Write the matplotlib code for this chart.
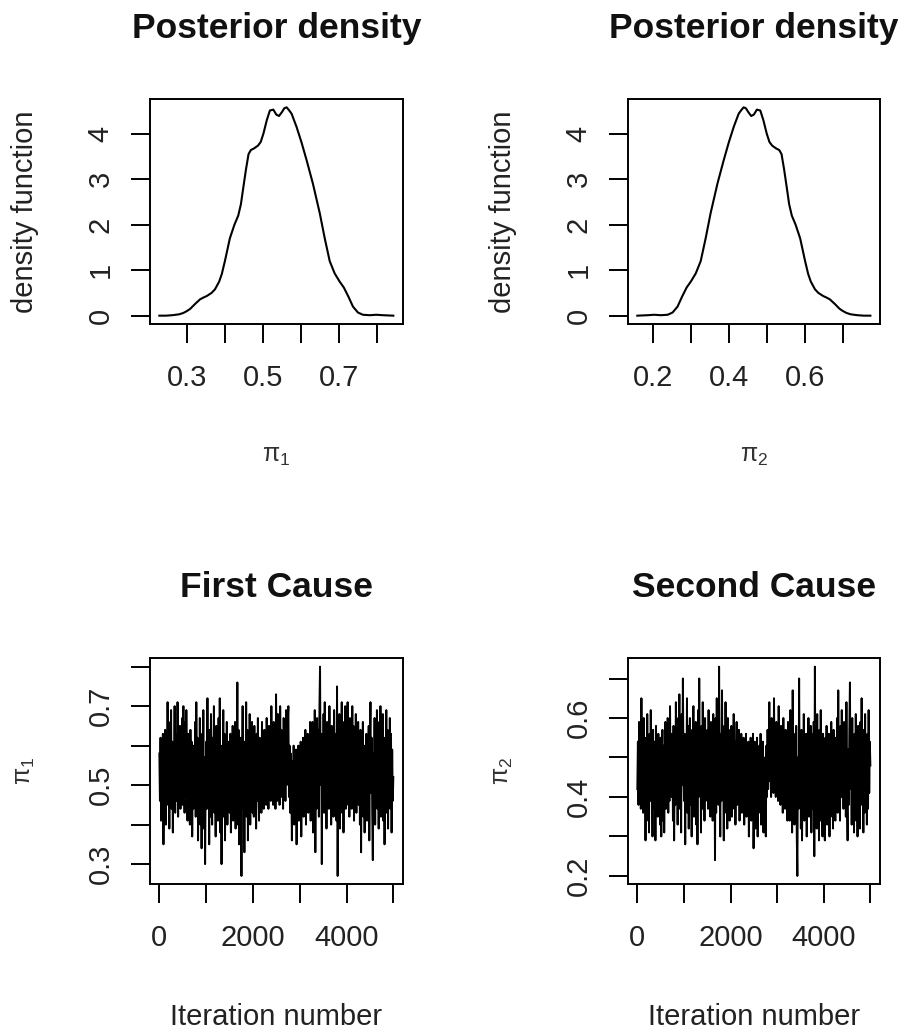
import numpy as np
import matplotlib
matplotlib.use("Agg")
import matplotlib.pyplot as plt

plt.rcParams['font.family'] = ['Liberation Sans', 'DejaVu Sans']
plt.rcParams['mathtext.fontset'] = 'dejavusans'

# Posterior density of pi_1
dens1_x = [0.228, 0.245, 0.262, 0.280, 0.291, 0.300, 0.309, 0.322, 0.335, 0.344,
           0.352, 0.365, 0.374, 0.385, 0.392, 0.400, 0.413, 0.425, 0.435, 0.442,
           0.448, 0.455, 0.462, 0.468, 0.477, 0.487, 0.494, 0.501, 0.510, 0.518,
           0.527, 0.535, 0.542, 0.550, 0.556, 0.562, 0.568, 0.575, 0.588, 0.601,
           0.615, 0.631, 0.649, 0.662, 0.675, 0.688, 0.701, 0.712, 0.724, 0.736,
           0.749, 0.762, 0.780, 0.797, 0.815, 0.842]
dens1_y = [0.00, 0.00, 0.01, 0.03, 0.06, 0.10, 0.15, 0.26, 0.36, 0.40,
           0.43, 0.50, 0.58, 0.75, 0.92, 1.20, 1.70, 2.00, 2.20, 2.45,
           2.80, 3.20, 3.55, 3.64, 3.68, 3.74, 3.82, 4.00, 4.30, 4.51,
           4.53, 4.42, 4.39, 4.48, 4.56, 4.58, 4.52, 4.44, 4.15, 3.81,
           3.40, 2.90, 2.25, 1.70, 1.20, 0.93, 0.75, 0.62, 0.42, 0.20,
           0.07, 0.02, 0.01, 0.02, 0.01, 0.00]

# Posterior density of pi_2
dens2_x = [0.158, 0.185, 0.203, 0.220, 0.238, 0.251, 0.264, 0.276, 0.288, 0.299,
           0.312, 0.325, 0.338, 0.351, 0.369, 0.385, 0.399, 0.412, 0.425, 0.432,
           0.438, 0.444, 0.450, 0.458, 0.465, 0.473, 0.482, 0.490, 0.499, 0.506,
           0.513, 0.523, 0.532, 0.538, 0.545, 0.552, 0.558, 0.565, 0.575, 0.587,
           0.600, 0.608, 0.615, 0.626, 0.635, 0.648, 0.656, 0.665, 0.678, 0.691,
           0.700, 0.709, 0.720, 0.738, 0.755, 0.772]
dens2_y = [0.00, 0.01, 0.02, 0.01, 0.02, 0.07, 0.20, 0.42, 0.62, 0.75,
           0.93, 1.20, 1.70, 2.25, 2.90, 3.40, 3.81, 4.15, 4.44, 4.52,
           4.58, 4.56, 4.48, 4.39, 4.42, 4.53, 4.51, 4.30, 4.00, 3.82,
           3.74, 3.68, 3.64, 3.55, 3.20, 2.80, 2.45, 2.20, 2.00, 1.70,
           1.20, 0.92, 0.75, 0.58, 0.50, 0.43, 0.40, 0.36, 0.26, 0.15,
           0.10, 0.06, 0.03, 0.01, 0.00, 0.00]

# MCMC chains, thinned (20 values per 250 iterations)
pi1_trace = [
    0.58, 0.46, 0.62, 0.41, 0.57, 0.44, 0.63, 0.35, 0.55, 0.48, 0.64, 0.40, 0.60, 0.45, 0.71, 0.50, 0.66, 0.39, 0.58, 0.47,
    0.69, 0.44, 0.61, 0.38, 0.56, 0.49, 0.70, 0.43, 0.63, 0.52, 0.46, 0.71, 0.42, 0.59, 0.48, 0.65, 0.44, 0.60, 0.50, 0.67,
    0.45, 0.70, 0.52, 0.43, 0.66, 0.47, 0.69, 0.55, 0.41, 0.63, 0.49, 0.58, 0.40, 0.64, 0.46, 0.61, 0.37, 0.57, 0.44, 0.60,
    0.47, 0.66, 0.42, 0.71, 0.50, 0.62, 0.36, 0.58, 0.45, 0.67, 0.40, 0.55, 0.34, 0.63, 0.48, 0.69, 0.39, 0.57, 0.30, 0.52,
    0.61, 0.44, 0.72, 0.47, 0.58, 0.35, 0.64, 0.42, 0.68, 0.50, 0.40, 0.62, 0.46, 0.70, 0.43, 0.56, 0.37, 0.65, 0.49, 0.59,
    0.41, 0.67, 0.45, 0.72, 0.38, 0.60, 0.30, 0.55, 0.47, 0.69, 0.42, 0.63, 0.36, 0.58, 0.44, 0.66, 0.40, 0.61, 0.46, 0.57,
    0.43, 0.63, 0.38, 0.60, 0.48, 0.65, 0.41, 0.58, 0.45, 0.66, 0.39, 0.62, 0.47, 0.76, 0.40, 0.64, 0.35, 0.59, 0.44, 0.62,
    0.27, 0.55, 0.70, 0.44, 0.61, 0.33, 0.58, 0.48, 0.71, 0.42, 0.64, 0.36, 0.57, 0.46, 0.68, 0.40, 0.62, 0.45, 0.66, 0.43,
    0.60, 0.42, 0.65, 0.48, 0.56, 0.39, 0.63, 0.46, 0.67, 0.50, 0.41, 0.62, 0.47, 0.58, 0.43, 0.66, 0.49, 0.60, 0.44, 0.64,
    0.47, 0.62, 0.45, 0.67, 0.52, 0.59, 0.44, 0.65, 0.50, 0.61, 0.46, 0.70, 0.48, 0.63, 0.45, 0.66, 0.51, 0.60, 0.44, 0.73,
    0.55, 0.46, 0.68, 0.50, 0.62, 0.45, 0.70, 0.49, 0.64, 0.47, 0.58, 0.44, 0.67, 0.52, 0.61, 0.46, 0.69, 0.50, 0.57, 0.66,
    0.70, 0.47, 0.60, 0.43, 0.58, 0.50, 0.36, 0.56, 0.44, 0.60, 0.40, 0.55, 0.47, 0.59, 0.35, 0.53, 0.45, 0.60, 0.41, 0.57,
    0.44, 0.61, 0.37, 0.56, 0.48, 0.62, 0.42, 0.58, 0.46, 0.64, 0.40, 0.57, 0.49, 0.63, 0.43, 0.60, 0.45, 0.66, 0.41, 0.59,
    0.46, 0.66, 0.38, 0.62, 0.47, 0.69, 0.33, 0.60, 0.44, 0.67, 0.48, 0.64, 0.42, 0.70, 0.80, 0.50, 0.63, 0.30, 0.58, 0.45,
    0.68, 0.43, 0.71, 0.50, 0.62, 0.39, 0.66, 0.47, 0.60, 0.44, 0.70, 0.48, 0.58, 0.40, 0.65, 0.46, 0.62, 0.42, 0.69, 0.51,
    0.44, 0.63, 0.41, 0.75, 0.27, 0.60, 0.46, 0.68, 0.39, 0.64, 0.50, 0.71, 0.43, 0.66, 0.38, 0.62, 0.47, 0.70, 0.44, 0.65,
    0.49, 0.71, 0.45, 0.63, 0.42, 0.67, 0.52, 0.60, 0.44, 0.70, 0.48, 0.65, 0.41, 0.62, 0.50, 0.68, 0.43, 0.61, 0.47, 0.66,
    0.45, 0.62, 0.40, 0.64, 0.33, 0.57, 0.47, 0.66, 0.42, 0.60, 0.38, 0.58, 0.46, 0.63, 0.41, 0.59, 0.49, 0.65, 0.36, 0.61,
    0.71, 0.48, 0.62, 0.43, 0.31, 0.58, 0.46, 0.67, 0.40, 0.63, 0.50, 0.69, 0.44, 0.60, 0.39, 0.66, 0.47, 0.70, 0.42, 0.61,
    0.45, 0.68, 0.41, 0.62, 0.35, 0.58, 0.47, 0.69, 0.43, 0.64, 0.39, 0.60, 0.49, 0.67, 0.44, 0.63, 0.38, 0.59, 0.46, 0.52]
pi2_trace = [
    0.42, 0.54, 0.38, 0.59, 0.43, 0.56, 0.37, 0.65, 0.45, 0.52, 0.36, 0.60, 0.40, 0.55, 0.29, 0.50, 0.34, 0.61, 0.42, 0.53,
    0.31, 0.56, 0.39, 0.62, 0.44, 0.51, 0.30, 0.57, 0.37, 0.48, 0.54, 0.29, 0.58, 0.41, 0.52, 0.35, 0.56, 0.40, 0.50, 0.33,
    0.55, 0.30, 0.48, 0.57, 0.34, 0.53, 0.31, 0.45, 0.59, 0.37, 0.51, 0.42, 0.60, 0.36, 0.54, 0.39, 0.63, 0.43, 0.56, 0.40,
    0.53, 0.34, 0.58, 0.29, 0.50, 0.38, 0.64, 0.42, 0.55, 0.33, 0.60, 0.45, 0.66, 0.37, 0.52, 0.31, 0.61, 0.43, 0.70, 0.48,
    0.39, 0.56, 0.28, 0.53, 0.42, 0.65, 0.36, 0.58, 0.32, 0.50, 0.60, 0.38, 0.54, 0.30, 0.57, 0.44, 0.63, 0.35, 0.51, 0.41,
    0.59, 0.33, 0.55, 0.28, 0.62, 0.40, 0.70, 0.45, 0.53, 0.31, 0.58, 0.37, 0.64, 0.42, 0.56, 0.34, 0.60, 0.39, 0.54, 0.43,
    0.57, 0.37, 0.62, 0.40, 0.52, 0.35, 0.59, 0.42, 0.55, 0.34, 0.61, 0.38, 0.53, 0.24, 0.60, 0.36, 0.65, 0.41, 0.56, 0.38,
    0.73, 0.45, 0.30, 0.56, 0.39, 0.67, 0.42, 0.52, 0.29, 0.58, 0.36, 0.64, 0.43, 0.54, 0.32, 0.60, 0.38, 0.55, 0.34, 0.57,
    0.40, 0.58, 0.35, 0.52, 0.44, 0.61, 0.37, 0.54, 0.33, 0.50, 0.59, 0.38, 0.53, 0.42, 0.57, 0.34, 0.51, 0.40, 0.56, 0.36,
    0.53, 0.38, 0.55, 0.33, 0.48, 0.41, 0.56, 0.35, 0.50, 0.39, 0.54, 0.30, 0.52, 0.37, 0.55, 0.34, 0.49, 0.40, 0.56, 0.27,
    0.45, 0.54, 0.32, 0.50, 0.38, 0.55, 0.30, 0.51, 0.36, 0.53, 0.42, 0.56, 0.33, 0.48, 0.39, 0.54, 0.31, 0.50, 0.43, 0.34,
    0.30, 0.53, 0.40, 0.57, 0.42, 0.50, 0.64, 0.44, 0.56, 0.40, 0.60, 0.45, 0.53, 0.41, 0.65, 0.47, 0.55, 0.40, 0.59, 0.43,
    0.56, 0.39, 0.63, 0.44, 0.52, 0.38, 0.58, 0.42, 0.54, 0.36, 0.60, 0.43, 0.51, 0.37, 0.57, 0.40, 0.55, 0.34, 0.59, 0.41,
    0.54, 0.34, 0.62, 0.38, 0.53, 0.31, 0.67, 0.40, 0.56, 0.33, 0.52, 0.36, 0.58, 0.30, 0.20, 0.50, 0.37, 0.70, 0.42, 0.55,
    0.32, 0.57, 0.29, 0.50, 0.38, 0.61, 0.34, 0.53, 0.40, 0.56, 0.30, 0.52, 0.42, 0.60, 0.35, 0.54, 0.38, 0.58, 0.31, 0.49,
    0.56, 0.37, 0.59, 0.25, 0.73, 0.40, 0.54, 0.32, 0.61, 0.36, 0.50, 0.29, 0.57, 0.34, 0.62, 0.38, 0.53, 0.30, 0.56, 0.35,
    0.51, 0.29, 0.55, 0.37, 0.58, 0.33, 0.48, 0.40, 0.56, 0.30, 0.52, 0.35, 0.59, 0.38, 0.50, 0.32, 0.57, 0.39, 0.53, 0.34,
    0.55, 0.38, 0.60, 0.36, 0.67, 0.43, 0.53, 0.34, 0.58, 0.40, 0.62, 0.42, 0.54, 0.37, 0.59, 0.41, 0.51, 0.35, 0.64, 0.39,
    0.29, 0.52, 0.38, 0.57, 0.69, 0.42, 0.54, 0.33, 0.60, 0.37, 0.50, 0.31, 0.56, 0.40, 0.61, 0.34, 0.53, 0.30, 0.58, 0.39,
    0.55, 0.32, 0.59, 0.38, 0.65, 0.42, 0.53, 0.31, 0.57, 0.36, 0.61, 0.40, 0.51, 0.33, 0.56, 0.37, 0.62, 0.41, 0.54, 0.48]
iterations = np.linspace(1, 5000, len(pi1_trace))

FS = 21


def r_lim(values):
    # R style 4% padding around the data range
    lo, hi = min(values), max(values)
    pad = 0.04 * (hi - lo)
    return lo - pad, hi + pad


def style_axes(ax, xticks, xlabels, yticks, ylabels):
    for side in ax.spines.values():
        side.set_linewidth(1.4)
    ax.set_xticks(xticks)
    ax.set_xticklabels(xlabels)
    ax.set_yticks(yticks)
    ax.set_yticklabels(ylabels)
    ax.tick_params(axis='both', direction='out', length=13.5, width=1.4,
                   labelsize=FS, colors='black', labelcolor='#222222')
    ax.tick_params(axis='x', pad=15)
    ax.tick_params(axis='y', pad=12)
    for lab in ax.get_yticklabels():
        lab.set_rotation(90)
        lab.set_va('center')


fig = plt.figure(figsize=(8.98, 10.30), dpi=100)

W, H = 898.0, 1030.0
boxes = {
    'tl': (150, 99, 402.7, 324),
    'tr': (628, 99, 879.7, 324),
    'bl': (150, 658.3, 402.7, 884.3),
    'br': (628, 658.3, 879.7, 884.3),
}


def make_axes(key):
    x0, y0, x1, y1 = boxes[key]
    return fig.add_axes([x0 / W, 1 - y1 / H, (x1 - x0) / W, (y1 - y0) / H])


def add_labels(ax, title, xlabel, ylabel, xlabel_math=False, ylabel_math=False):
    ax.text(0.5, 1.27, title, transform=ax.transAxes, ha='center',
            va='baseline', fontsize=25.5, fontweight='bold', color='#111111')
    if xlabel_math:
        ax.text(0.5, -0.585, xlabel, transform=ax.transAxes, ha='center',
                va='center', fontsize=18, color='#333333')
    else:
        ax.text(0.5, -0.623, xlabel, transform=ax.transAxes, ha='center',
                va='baseline', fontsize=FS, color='#222222')
    ax.text(-0.495, 0.5, ylabel, transform=ax.transAxes, ha='center',
            va='center', rotation=90, fontsize=18 if ylabel_math else FS,
            color='#333333' if ylabel_math else '#222222')


# Top left: density of pi_1
ax = make_axes('tl')
ax.plot(dens1_x, dens1_y, color='black', lw=1.5)
ax.set_xlim(r_lim(dens1_x))
ax.set_ylim(r_lim(dens1_y))
style_axes(ax, [0.3, 0.4, 0.5, 0.6, 0.7, 0.8], ['0.3', '', '0.5', '', '0.7', ''],
           [0, 1, 2, 3, 4], ['0', '1', '2', '3', '4'])
add_labels(ax, 'Posterior density', r'$\mathregular{\pi_1}$', 'density function',
           xlabel_math=True)

# Top right: density of pi_2
ax = make_axes('tr')
ax.plot(dens2_x, dens2_y, color='black', lw=1.5)
ax.set_xlim(r_lim(dens2_x))
ax.set_ylim(r_lim(dens2_y))
style_axes(ax, [0.2, 0.3, 0.4, 0.5, 0.6, 0.7], ['0.2', '', '0.4', '', '0.6', ''],
           [0, 1, 2, 3, 4], ['0', '1', '2', '3', '4'])
add_labels(ax, 'Posterior density', r'$\mathregular{\pi_2}$', 'density function',
           xlabel_math=True)

# Bottom left: trace of pi_1
ax = make_axes('bl')
ax.plot(iterations, pi1_trace, color='black', lw=1.4)
ax.set_xlim(r_lim([1, 5000]))
ax.set_ylim(r_lim(pi1_trace))
style_axes(ax, [0, 1000, 2000, 3000, 4000, 5000], ['0', '', '2000', '', '4000', ''],
           [0.3, 0.4, 0.5, 0.6, 0.7, 0.8], ['0.3', '', '0.5', '', '0.7', ''])
add_labels(ax, 'First Cause', 'Iteration number', r'$\mathregular{\pi_1}$',
           ylabel_math=True)

# Bottom right: trace of pi_2
ax = make_axes('br')
ax.plot(iterations, pi2_trace, color='black', lw=1.4)
ax.set_xlim(r_lim([1, 5000]))
ax.set_ylim(r_lim(pi2_trace))
style_axes(ax, [0, 1000, 2000, 3000, 4000, 5000], ['0', '', '2000', '', '4000', ''],
           [0.2, 0.3, 0.4, 0.5, 0.6, 0.7], ['0.2', '', '0.4', '', '0.6', ''])
add_labels(ax, 'Second Cause', 'Iteration number', r'$\mathregular{\pi_2}$',
           ylabel_math=True)

fig.savefig('out.png', dpi=100)
